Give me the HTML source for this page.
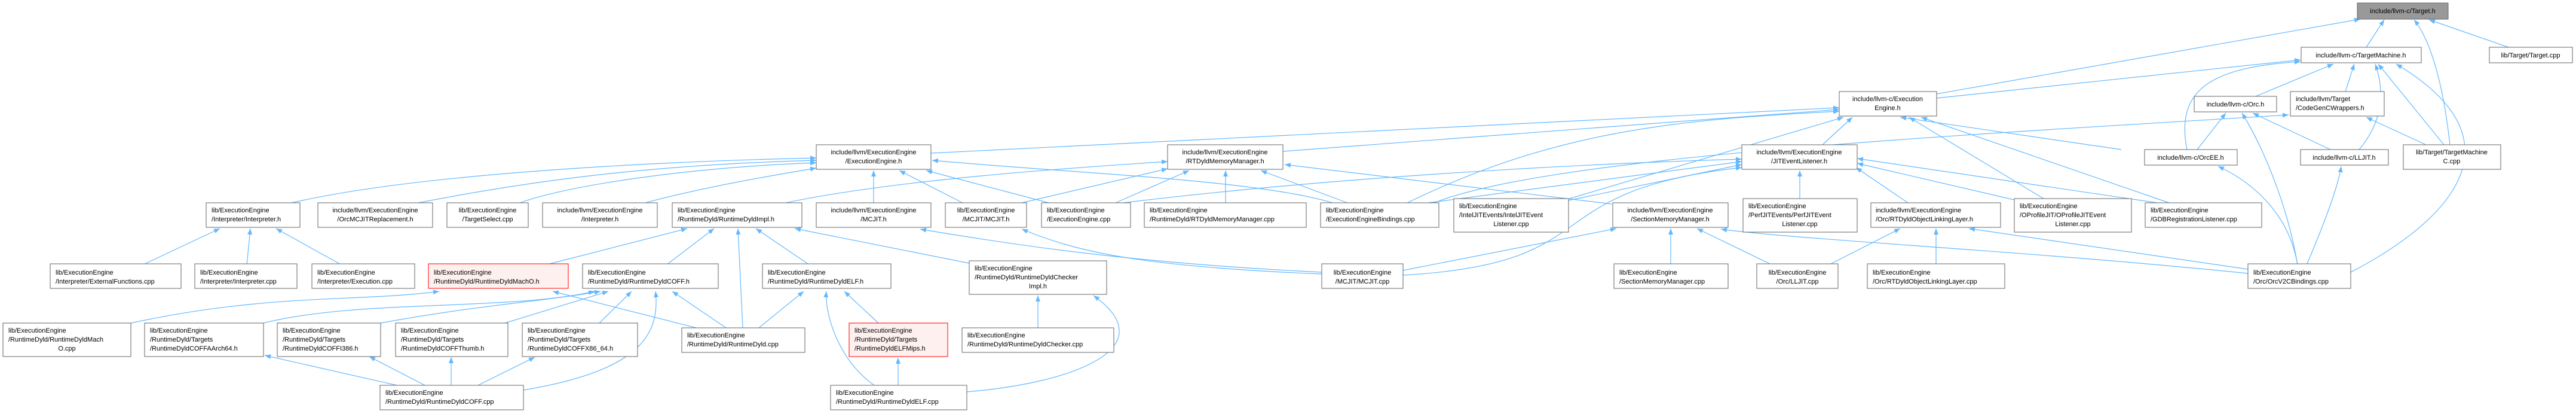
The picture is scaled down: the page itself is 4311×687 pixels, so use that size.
<!DOCTYPE html>
<html><head><meta charset="utf-8"><style>
html,body{margin:0;padding:0;background:#fff;}
svg{display:block;}
text{font-family:"Liberation Sans",Arial,sans-serif;font-size:11px;fill:#000;}
.b{fill:#fff;stroke:#666;stroke-width:1;}
.r{fill:#fff0f0;stroke:#f00;stroke-width:1;}
.g{fill:#999;stroke:#666;stroke-width:1;}
.e{fill:none;stroke:#63b8ff;stroke-width:1.2;}
.m{text-anchor:middle;}
</style></head><body>
<svg width="4311" height="687" viewBox="0 0 4311 687" xmlns="http://www.w3.org/2000/svg">
<defs><marker id="a" viewBox="0 0 10 8" refX="10" refY="4" markerWidth="10" markerHeight="8" markerUnits="userSpaceOnUse" orient="auto"><path d="M0,0 L10,4 L0,8 z" fill="#63b8ff"/></marker></defs>
<g marker-end="url(#a)">
<!-- Target.h -->
<path class="e" d="M3960,79 L3990,33"/>
<path class="e" d="M3241,157 L3950,32"/>
<path class="e" d="M4100,242 C4090,150 4070,70 4040,33"/>
<path class="e" d="M4198,79 L4065,33"/>
<!-- TargetMachine.h -->
<path class="e" d="M3241,164 L3850,100"/>
<path class="e" d="M3660,250 C3640,150 3700,112 3850,103"/>
<path class="e" d="M3775,161 L3905,107"/>
<path class="e" d="M3925,153 L3940,107"/>
<path class="e" d="M3948,250 C3990,200 3990,150 3975,107"/>
<path class="e" d="M4090,242 L3980,107"/>
<path class="e" d="M3934,455 C4060,390 4250,250 4010,107"/>
<!-- llvm-c ExecutionEngine.h -->
<path class="e" d="M1558,256 L3078,180"/>
<path class="e" d="M2147,253 L3078,183"/>
<path class="e" d="M2355,339 C2600,220 2800,200 3078,186"/>
<path class="e" d="M2620,334 L3085,196"/>
<path class="e" d="M3050,242 L3100,196"/>
<path class="e" d="M3550,250 L3180,196"/>
<path class="e" d="M3420,332 L3195,196"/>
<path class="e" d="M3630,339 L3215,196"/>
<!-- CodeGenCWrappers.h -->
<path class="e" d="M4060,242 L3960,196"/>
<path class="e" d="M2400,339 C2600,260 3300,225 3830,192"/>
<!-- Orc.h -->
<path class="e" d="M3677,250 L3725,189"/>
<path class="e" d="M3900,250 L3770,189"/>
<path class="e" d="M3845,443 C3830,350 3790,250 3752,189"/>
<!-- ExecutionEngine.h -->
<path class="e" d="M488,339 C700,290 1100,270 1366,264"/>
<path class="e" d="M700,339 C900,300 1100,275 1366,268"/>
<path class="e" d="M870,339 C950,310 1150,280 1366,272"/>
<path class="e" d="M1080,339 C1150,320 1250,300 1366,281"/>
<path class="e" d="M1462,339 L1462,285"/>
<path class="e" d="M1611,339 L1505,285"/>
<path class="e" d="M1755,339 L1550,285"/>
<path class="e" d="M2230,339 C2100,300 1800,290 1560,268"/>
<!-- RTDyldMemoryManager.h -->
<path class="e" d="M1315,339 C1500,300 1800,280 1954,270"/>
<path class="e" d="M1710,339 L1954,282"/>
<path class="e" d="M1867,339 L1990,285"/>
<path class="e" d="M2051,339 L2051,285"/>
<path class="e" d="M2255,339 L2110,285"/>
<path class="e" d="M2697,341 L2150,275"/>
<!-- JITEventListener.h -->
<path class="e" d="M1880,339 C2200,300 2600,275 2915,266"/>
<path class="e" d="M2390,339 L2915,270"/>
<path class="e" d="M2625,335 L2915,275"/>
<path class="e" d="M2348,460 C2700,440 2560,320 2915,280"/>
<path class="e" d="M3012,332 L3012,285"/>
<path class="e" d="M3193,339 L3106,280"/>
<path class="e" d="M3375,335 L3108,273"/>
<path class="e" d="M3610,339 L3108,265"/>
<!-- SectionMemoryManager.h -->
<path class="e" d="M2348,452 L2705,382"/>
<path class="e" d="M2796,443 L2796,382"/>
<path class="e" d="M2966,443 L2840,382"/>
<path class="e" d="M3762,457 C3400,420 3000,400 2880,383"/>
<!-- RTDyldObjectLinkingLayer.h -->
<path class="e" d="M3060,443 L3180,382"/>
<path class="e" d="M3240,443 L3240,382"/>
<path class="e" d="M3762,450 L3295,382"/>
<!-- OrcEE.h / LLJIT.h -->
<path class="e" d="M3845,443 C3830,350 3760,300 3712,278"/>
<path class="e" d="M3860,443 C3900,350 3915,300 3918,278"/>
<!-- MCJIT.h, MCJIT/MCJIT.h -->
<path class="e" d="M2212,455 C1900,440 1700,410 1540,383"/>
<path class="e" d="M2212,458 C1900,445 1800,420 1710,383"/>
<!-- RuntimeDyldImpl.h -->
<path class="e" d="M912,443 L1150,382"/>
<path class="e" d="M1115,443 L1195,382"/>
<path class="e" d="M1243,548 L1235,382"/>
<path class="e" d="M1355,443 L1265,382"/>
<path class="e" d="M1622,440 L1330,382"/>
<!-- MachO.h -->
<path class="e" d="M219,540 C450,490 600,505 735,487"/>
<path class="e" d="M1165,548 L925,487"/>
<!-- COFF.h -->
<path class="e" d="M441,540 C600,500 850,520 995,487"/>
<path class="e" d="M637,540 C800,510 900,505 1005,487"/>
<path class="e" d="M845,540 L1018,487"/>
<path class="e" d="M1003,540 L1057,487"/>
<path class="e" d="M876,652 C1070,620 1105,560 1097,487"/>
<path class="e" d="M1215,548 L1125,487"/>
<!-- ELF.h -->
<path class="e" d="M1270,548 L1345,487"/>
<path class="e" d="M1463,644 C1400,600 1380,520 1383,487"/>
<path class="e" d="M1470,540 L1413,487"/>
<path class="e" d="M1503,644 L1503,598"/>
<!-- CheckerImpl -->
<path class="e" d="M1737,548 L1737,494"/>
<path class="e" d="M1618,655 C1800,640 1950,580 1830,494"/>
<!-- Interpreter.h -->
<path class="e" d="M238,443 L368,382"/>
<path class="e" d="M413,443 L419,382"/>
<path class="e" d="M572,443 L462,382"/>
<!-- COFF targets -->
<path class="e" d="M664,644 L443,594"/>
<path class="e" d="M711,644 L618,596"/>
<path class="e" d="M755,644 L755,597"/>
<path class="e" d="M800,644 L895,597"/>
</g>

<!-- nodes -->
<rect class="g" x="3945" y="5" width="152" height="27"/><text x="4021" y="22" class="m">include/llvm-c/Target.h</text>
<rect class="b" x="3851" y="79" width="201" height="26"/><text x="3951" y="96" class="m">include/llvm-c/TargetMachine.h</text>
<rect class="b" x="4166" y="79" width="139" height="26"/><text x="4235" y="96" class="m">lib/Target/Target.cpp</text>
<rect class="b" x="3078" y="153" width="163" height="41"/><text x="3159" y="169" class="m">include/llvm-c/Execution</text><text x="3159" y="184" class="m">Engine.h</text>
<rect class="b" x="3672" y="161" width="138" height="26"/><text x="3741" y="178" class="m">include/llvm-c/Orc.h</text>
<rect class="b" x="3833" y="153" width="157" height="41"/><text x="3842" y="169">include/llvm/Target</text><text x="3842" y="184">/CodeGenCWrappers.h</text>
<rect class="b" x="1366" y="242" width="192" height="41"/><text x="1462" y="258" class="m">include/llvm/ExecutionEngine</text><text x="1462" y="273" class="m">/ExecutionEngine.h</text>
<rect class="b" x="1954" y="242" width="193" height="41"/><text x="2050" y="258" class="m">include/llvm/ExecutionEngine</text><text x="2050" y="273" class="m">/RTDyldMemoryManager.h</text>
<rect class="b" x="2915" y="242" width="193" height="41"/><text x="3011" y="258" class="m">include/llvm/ExecutionEngine</text><text x="3011" y="273" class="m">/JITEventListener.h</text>
<rect class="b" x="3589" y="250" width="155" height="26"/><text x="3666" y="267" class="m">include/llvm-c/OrcEE.h</text>
<rect class="b" x="3850" y="250" width="147" height="26"/><text x="3923" y="267" class="m">include/llvm-c/LLJIT.h</text>
<rect class="b" x="4022" y="242" width="163" height="41"/><text x="4103" y="258" class="m">lib/Target/TargetMachine</text><text x="4103" y="273" class="m">C.cpp</text>

<rect class="b" x="345" y="339" width="157" height="41"/><text x="354" y="355">lib/ExecutionEngine</text><text x="354" y="370">/Interpreter/Interpreter.h</text>
<rect class="b" x="532" y="339" width="192" height="41"/><text x="628" y="355" class="m">include/llvm/ExecutionEngine</text><text x="628" y="370" class="m">/OrcMCJITReplacement.h</text>
<rect class="b" x="748" y="339" width="136" height="41"/><text x="816" y="355" class="m">lib/ExecutionEngine</text><text x="816" y="370" class="m">/TargetSelect.cpp</text>
<rect class="b" x="908" y="339" width="192" height="41"/><text x="1004" y="355" class="m">include/llvm/ExecutionEngine</text><text x="1004" y="370" class="m">/Interpreter.h</text>
<rect class="b" x="1125" y="339" width="217" height="41"/><text x="1134" y="355">lib/ExecutionEngine</text><text x="1134" y="370">/RuntimeDyld/RuntimeDyldImpl.h</text>
<rect class="b" x="1366" y="339" width="192" height="41"/><text x="1462" y="355" class="m">include/llvm/ExecutionEngine</text><text x="1462" y="370" class="m">/MCJIT.h</text>
<rect class="b" x="1582" y="339" width="136" height="41"/><text x="1650" y="355" class="m">lib/ExecutionEngine</text><text x="1650" y="370" class="m">/MCJIT/MCJIT.h</text>
<rect class="b" x="1743" y="339" width="149" height="41"/><text x="1752" y="355">lib/ExecutionEngine</text><text x="1752" y="370">/ExecutionEngine.cpp</text>
<rect class="b" x="1915" y="339" width="271" height="41"/><text x="1924" y="355">lib/ExecutionEngine</text><text x="1924" y="370">/RuntimeDyld/RTDyldMemoryManager.cpp</text>
<rect class="b" x="2210" y="339" width="198" height="41"/><text x="2219" y="355">lib/ExecutionEngine</text><text x="2219" y="370">/ExecutionEngineBindings.cpp</text>
<rect class="b" x="2433" y="332" width="192" height="56"/><text x="2442" y="348">lib/ExecutionEngine</text><text x="2442" y="363">/IntelJITEvents/IntelJITEvent</text><text x="2529" y="378" class="m">Listener.cpp</text>
<rect class="b" x="2699" y="339" width="193" height="41"/><text x="2795" y="355" class="m">include/llvm/ExecutionEngine</text><text x="2795" y="370" class="m">/SectionMemoryManager.h</text>
<rect class="b" x="2917" y="332" width="191" height="56"/><text x="2926" y="348">lib/ExecutionEngine</text><text x="2926" y="363">/PerfJITEvents/PerfJITEvent</text><text x="3012" y="378" class="m">Listener.cpp</text>
<rect class="b" x="3131" y="339" width="217" height="41"/><text x="3139" y="355">include/llvm/ExecutionEngine</text><text x="3139" y="370">/Orc/RTDyldObjectLinkingLayer.h</text>
<rect class="b" x="3371" y="332" width="196" height="56"/><text x="3380" y="348">lib/ExecutionEngine</text><text x="3380" y="363">/OProfileJIT/OProfileJITEvent</text><text x="3469" y="378" class="m">Listener.cpp</text>
<rect class="b" x="3590" y="339" width="195" height="41"/><text x="3599" y="355">lib/ExecutionEngine</text><text x="3599" y="370">/GDBRegistrationListener.cpp</text>

<rect class="b" x="84" y="441" width="219" height="41"/><text x="93" y="459">lib/ExecutionEngine</text><text x="93" y="474">/Interpreter/ExternalFunctions.cpp</text>
<rect class="b" x="326" y="441" width="171" height="41"/><text x="335" y="459">lib/ExecutionEngine</text><text x="335" y="474">/Interpreter/Interpreter.cpp</text>
<rect class="b" x="522" y="441" width="172" height="41"/><text x="531" y="459">lib/ExecutionEngine</text><text x="531" y="474">/Interpreter/Execution.cpp</text>
<rect class="r" x="717" y="441" width="234" height="41"/><text x="726" y="459">lib/ExecutionEngine</text><text x="726" y="474">/RuntimeDyld/RuntimeDyldMachO.h</text>
<rect class="b" x="975" y="441" width="227" height="41"/><text x="984" y="459">lib/ExecutionEngine</text><text x="984" y="474">/RuntimeDyld/RuntimeDyldCOFF.h</text>
<rect class="b" x="1276" y="441" width="215" height="41"/><text x="1285" y="459">lib/ExecutionEngine</text><text x="1285" y="474">/RuntimeDyld/RuntimeDyldELF.h</text>
<rect class="b" x="1622" y="436" width="230" height="56"/><text x="1631" y="452">lib/ExecutionEngine</text><text x="1631" y="467">/RuntimeDyld/RuntimeDyldChecker</text><text x="1737" y="482" class="m">Impl.h</text>
<rect class="b" x="2212" y="441" width="136" height="41"/><text x="2280" y="459" class="m">lib/ExecutionEngine</text><text x="2280" y="474" class="m">/MCJIT/MCJIT.cpp</text>
<rect class="b" x="2701" y="441" width="191" height="41"/><text x="2710" y="459">lib/ExecutionEngine</text><text x="2710" y="474">/SectionMemoryManager.cpp</text>
<rect class="b" x="2940" y="441" width="136" height="41"/><text x="3008" y="459" class="m">lib/ExecutionEngine</text><text x="3008" y="474" class="m">/Orc/LLJIT.cpp</text>
<rect class="b" x="3125" y="441" width="230" height="41"/><text x="3134" y="459">lib/ExecutionEngine</text><text x="3134" y="474">/Orc/RTDyldObjectLinkingLayer.cpp</text>
<rect class="b" x="3762" y="441" width="172" height="41"/><text x="3771" y="459">lib/ExecutionEngine</text><text x="3771" y="474">/Orc/OrcV2CBindings.cpp</text>

<rect class="b" x="5" y="540" width="214" height="56"/><text x="14" y="556">lib/ExecutionEngine</text><text x="14" y="571">/RuntimeDyld/RuntimeDyldMach</text><text x="112" y="586" class="m">O.cpp</text>
<rect class="b" x="242" y="540" width="199" height="56"/><text x="251" y="556">lib/ExecutionEngine</text><text x="251" y="571">/RuntimeDyld/Targets</text><text x="251" y="586">/RuntimeDyldCOFFAArch64.h</text>
<rect class="b" x="464" y="540" width="173" height="56"/><text x="473" y="556">lib/ExecutionEngine</text><text x="473" y="571">/RuntimeDyld/Targets</text><text x="473" y="586">/RuntimeDyldCOFFI386.h</text>
<rect class="b" x="662" y="540" width="188" height="56"/><text x="671" y="556">lib/ExecutionEngine</text><text x="671" y="571">/RuntimeDyld/Targets</text><text x="671" y="586">/RuntimeDyldCOFFThumb.h</text>
<rect class="b" x="874" y="540" width="193" height="56"/><text x="883" y="556">lib/ExecutionEngine</text><text x="883" y="571">/RuntimeDyld/Targets</text><text x="883" y="586">/RuntimeDyldCOFFX86_64.h</text>
<rect class="b" x="1141" y="548" width="206" height="41"/><text x="1150" y="564">lib/ExecutionEngine</text><text x="1150" y="579">/RuntimeDyld/RuntimeDyld.cpp</text>
<rect class="r" x="1421" y="540" width="165" height="56"/><text x="1430" y="556">lib/ExecutionEngine</text><text x="1430" y="571">/RuntimeDyld/Targets</text><text x="1430" y="586">/RuntimeDyldELFMips.h</text>
<rect class="b" x="1610" y="548" width="254" height="41"/><text x="1619" y="564">lib/ExecutionEngine</text><text x="1619" y="579">/RuntimeDyld/RuntimeDyldChecker.cpp</text>

<rect class="b" x="636" y="644" width="240" height="41"/><text x="645" y="660">lib/ExecutionEngine</text><text x="645" y="675">/RuntimeDyld/RuntimeDyldCOFF.cpp</text>
<rect class="b" x="1390" y="644" width="228" height="41"/><text x="1399" y="660">lib/ExecutionEngine</text><text x="1399" y="675">/RuntimeDyld/RuntimeDyldELF.cpp</text>
</svg>
</body></html>
